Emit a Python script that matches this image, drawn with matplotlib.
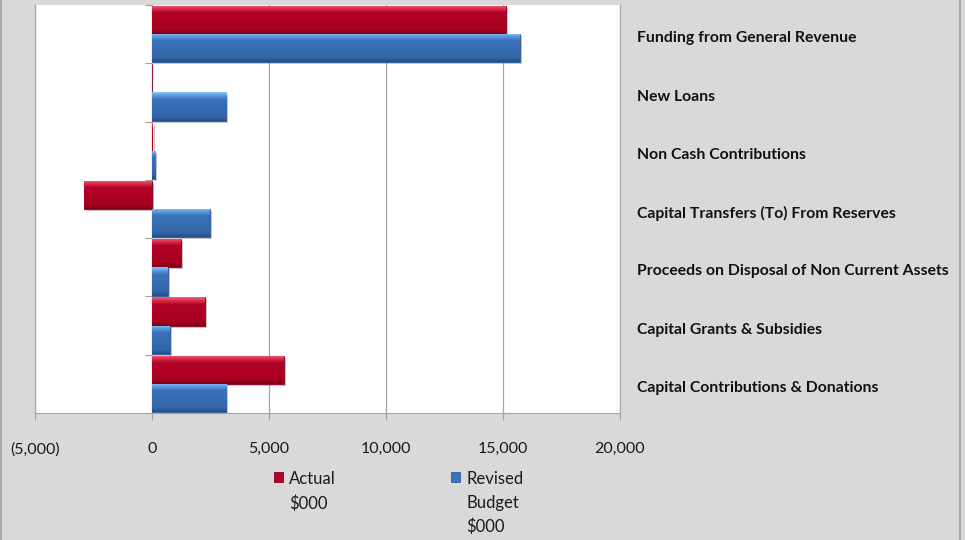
import numpy as np
import matplotlib
matplotlib.use("Agg")
import matplotlib.pyplot as plt
from matplotlib.colors import LinearSegmentedColormap
from matplotlib.ticker import FuncFormatter
from matplotlib import patheffects
from matplotlib.lines import Line2D
from matplotlib.patches import Rectangle

# bottom to top, as drawn on the category axis
categories = [
    "Capital Contributions & Donations",
    "Capital Grants & Subsidies",
    "Proceeds on Disposal of Non Current Assets",
    "Capital Transfers (To) From Reserves",
    "Non Cash Contributions",
    "New Loans",
    "Funding from General Revenue",
]
actual = [5640, 2260, 1230, -2900, 20, 0, 15110]
revised_budget = [3180, 760, 670, 2460, 130, 3170, 15720]
series_names = ["Actual\n$000", "Revised\nBudget\n$000"]
x_ticks = [-5000, 0, 5000, 10000, 15000, 20000]

plt.rcParams["font.family"] = ["Lato", "DejaVu Sans"]

W, H = 965, 540
fig = plt.figure(figsize=(W / 100, H / 100), dpi=100)
fig.patch.set_facecolor("#d9d9d9")
ax = fig.add_axes([35 / W, 1 - 413 / H, 585 / W, 408 / H])
ax.set_facecolor("white")

red = "#b3022a"
blue = "#3a72bb"
red_cmap = LinearSegmentedColormap.from_list(
    "r", [(0, "#7e0018"), (0.15, "#a8001f"), (0.75, red), (0.9, "#e0334f"), (1, "#f0607a")])
blue_cmap = LinearSegmentedColormap.from_list(
    "b", [(0, "#244f85"), (0.15, "#3366a8"), (0.75, blue), (0.9, "#5e9ee0"), (1, "#8cc4f7")])

y = np.arange(len(categories))
h = 0.485
shadow = [patheffects.SimplePatchShadow(offset=(1.5, -1.5), alpha=0.25), patheffects.Normal()]

bars_a = ax.barh(y + h / 2, actual, height=h, color=red, edgecolor="#8a0020",
                 linewidth=0.6, zorder=3, path_effects=shadow)
bars_b = ax.barh(y - h / 2, revised_budget, height=h, color=blue, edgecolor="#2b5a94",
                 linewidth=0.6, zorder=3, path_effects=shadow)

# vertical shading on each bar for the bevelled look
grad = np.linspace(0, 1, 64).reshape(-1, 1)
for bars, cmap in ((bars_a, red_cmap), (bars_b, blue_cmap)):
    for b in bars:
        x0, y0 = b.get_x(), b.get_y()
        w, hh = b.get_width(), b.get_height()
        if w == 0:
            continue
        im = ax.imshow(grad, cmap=cmap, aspect="auto", origin="lower",
                       extent=(min(x0, x0 + w), max(x0, x0 + w), y0, y0 + hh),
                       zorder=3.5, interpolation="bilinear")
        im.set_clip_path(b)

ax.set_xlim(-5000, 20000)
ax.set_ylim(-0.5, len(categories) - 0.5)
ax.set_xticks(x_ticks)
ax.xaxis.set_major_formatter(FuncFormatter(
    lambda v, p: "0" if v == 0 else (f"({abs(v):,.0f})" if v < 0 else f"{v:,.0f}")))
ax.tick_params(axis="x", direction="out", length=5, color="#a0a0a0", pad=16,
               labelsize=11.5, labelcolor="#1a1a1a")
ax.grid(axis="x", color="#a6a6a6", linewidth=0.9, zorder=0)
ax.set_axisbelow(True)

# category axis sits on zero, ticks at category boundaries
ax.spines["left"].set_position(("data", 0))
ax.spines["left"].set_color("#a0a0a0")
ax.set_yticks(np.arange(-0.5, len(categories), 1))
ax.set_yticklabels([])
ax.tick_params(axis="y", direction="out", length=5, color="#a0a0a0")
for s in ("top", "right", "bottom"):
    ax.spines[s].set_color("#a6a6a6")
ax.spines["top"].set_visible(False)
ax.add_line(Line2D([0, 0], [0, 1], transform=ax.transAxes, color="#a6a6a6", lw=0.9, clip_on=False))

for yi, name in zip(y, categories):
    ax.text(1.029, yi - 0.07, name, transform=ax.get_yaxis_transform(), ha="left", va="center",
            fontsize=11.3, fontweight="bold", color="#111111")

# legend: square key with the label hanging from its first line
legend_x = [274, 451]
for lx, name, col, edge in zip(legend_x, series_names, (red, blue), ("#8a0020", "#2b5a94")):
    fig.add_artist(Rectangle((lx / W, 1 - 482 / H), 9 / W, 10 / H, transform=fig.transFigure,
                             facecolor=col, edgecolor=edge, lw=0.6))
    fig.text((lx + 15) / W, 1 - 471 / H, name, ha="left", va="top", fontsize=12,
             linespacing=1.6, color="#1a1a1a")

# thin frame on the sides of the chart area
fig.add_artist(Line2D([0.5 / W, 0.5 / W], [0, 1], color="#a0a0a0", lw=1.2))
fig.add_artist(Line2D([959.5 / W, 959.5 / W], [0, 1], color="#a0a0a0", lw=1.2))

fig.savefig("out.png", dpi=100, facecolor=fig.get_facecolor())
